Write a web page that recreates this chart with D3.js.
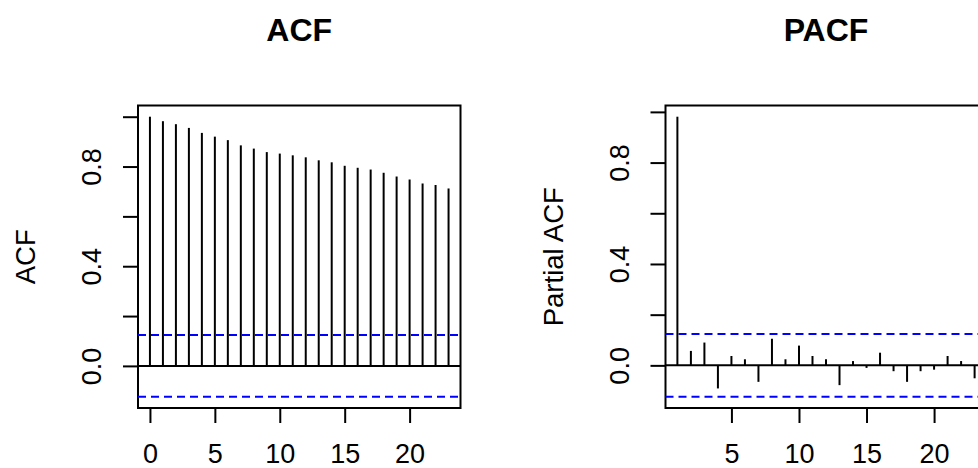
<!DOCTYPE html>
<html>
<head>
<meta charset="utf-8">
<script src="https://cdn.jsdelivr.net/npm/d3@7"></script>
<style>
  html, body { margin: 0; padding: 0; background: #fff; }
  svg { display: block; font-family: "Liberation Sans", Arial, Helvetica, sans-serif; }
</style>
</head>
<body>
<svg id="chart" width="978" height="468"></svg>
<script>
// Autocorrelation estimates, lags 0..23
const acfLags = d3.range(0, 24);
const acfValues = [1.000, 0.982, 0.970, 0.955, 0.935, 0.920, 0.906, 0.885, 0.872, 0.858,
                   0.852, 0.845, 0.837, 0.825, 0.817, 0.803, 0.795, 0.788, 0.775, 0.760,
                   0.748, 0.732, 0.726, 0.712];

// Partial autocorrelation estimates, lags 1..23
const pacfLags = d3.range(1, 24);
const pacfValues = [0.981, 0.057, 0.090, -0.091, 0.037, 0.024, -0.065, 0.105, 0.024, 0.078,
                    0.037, 0.024, -0.078, 0.017, -0.010, 0.050, -0.023, -0.065, -0.023, -0.017,
                    0.037, 0.017, -0.051];

// Approximate 95% confidence bound (white noise)
const ciBound = [0.124];

const yTicks = [0, 0.2, 0.4, 0.6, 0.8, 1.0];
const yTickLabels = ["0.0", "", "0.4", "", "0.8", ""];
const acfXTicks = [0, 5, 10, 15, 20];
const pacfXTicks = [5, 10, 15, 20];

const svg = d3.select("#chart");

// R-style axis range: data range padded by 4% on each side
function padded(lo, hi) {
  const p = (hi - lo) * 0.04;
  return [lo - p, hi + p];
}

function drawPanel(cfg) {
  const { lags, values, box, title, ylab, xTicks } = cfg;
  const ci = ciBound[0];

  const x = d3.scaleLinear()
    .domain(padded(d3.min(lags), d3.max(lags)))
    .range([box.left, box.right]);
  const y = d3.scaleLinear()
    .domain(padded(Math.min(-ci, d3.min(values)), Math.max(ci, d3.max(values))))
    .range([box.bottom, box.top]);

  const g = svg.append("g");

  // plot frame
  g.append("rect")
    .attr("x", box.left).attr("y", box.top)
    .attr("width", box.right - box.left).attr("height", box.bottom - box.top)
    .attr("fill", "none").attr("stroke", "#000").attr("stroke-width", 2);

  // zero reference line
  g.append("line")
    .attr("x1", box.left).attr("x2", box.right)
    .attr("y1", y(0)).attr("y2", y(0))
    .attr("stroke", "#000").attr("stroke-width", 2);

  // confidence bounds
  [ci, -ci].forEach(v => {
    g.append("line")
      .attr("x1", box.left).attr("x2", box.right)
      .attr("y1", y(v)).attr("y2", y(v))
      .attr("stroke", "#0000ff").attr("stroke-width", 2)
      .attr("stroke-dasharray", "8,5");
  });

  // vertical stems
  g.selectAll("line.stem")
    .data(lags.map((l, i) => ({ lag: l, v: values[i] })))
    .join("line")
    .attr("class", "stem")
    .attr("x1", d => x(d.lag)).attr("x2", d => x(d.lag))
    .attr("y1", y(0)).attr("y2", d => y(d.v))
    .attr("stroke", "#000").attr("stroke-width", 2);

  // x axis
  const xAxis = d3.axisBottom(x).tickValues(xTicks).tickSize(15).tickPadding(0)
    .tickFormat(d3.format("d"));
  const xg = g.append("g").attr("transform", `translate(0,${box.bottom})`).call(xAxis);
  xg.select(".domain").remove();
  xg.selectAll(".tick line").attr("stroke", "#000").attr("stroke-width", 2);
  xg.selectAll(".tick text")
    .attr("y", 55).attr("dy", null)
    .attr("font-size", 27).attr("fill", "#000")
    .attr("font-family", "'Liberation Sans', Arial, sans-serif");

  // y axis
  const yAxis = d3.axisLeft(y).tickValues(yTicks).tickSize(15).tickPadding(0)
    .tickFormat((d, i) => yTickLabels[i]);
  const yg = g.append("g").attr("transform", `translate(${box.left},0)`).call(yAxis);
  yg.select(".domain").remove();
  yg.selectAll(".tick line").attr("stroke", "#000").attr("stroke-width", 2);
  yg.selectAll(".tick text")
    .attr("x", null).attr("dy", null)
    .attr("text-anchor", "middle")
    .attr("transform", "translate(-37,0) rotate(-90)")
    .attr("font-size", 27).attr("fill", "#000")
    .attr("font-family", "'Liberation Sans', Arial, sans-serif");

  // y axis title
  const cy = (box.top + box.bottom) / 2;
  g.append("text")
    .attr("transform", `translate(${box.left - 103},${cy}) rotate(-90)`)
    .attr("text-anchor", "middle")
    .attr("font-size", 27.5)
    .text(ylab);

  // panel title
  g.append("text")
    .attr("x", (box.left + box.right) / 2).attr("y", 41)
    .attr("text-anchor", "middle")
    .attr("font-size", 32).attr("font-weight", "bold")
    .text(title);
}

drawPanel({
  lags: acfLags, values: acfValues, xTicks: acfXTicks,
  box: { left: 138, right: 460.5, top: 105.5, bottom: 408 },
  title: "ACF", ylab: "ACF"
});

drawPanel({
  lags: pacfLags, values: pacfValues, xTicks: pacfXTicks,
  box: { left: 665.5, right: 986.5, top: 105.5, bottom: 408 },
  title: "PACF", ylab: "Partial ACF"
});
</script>
</body>
</html>
